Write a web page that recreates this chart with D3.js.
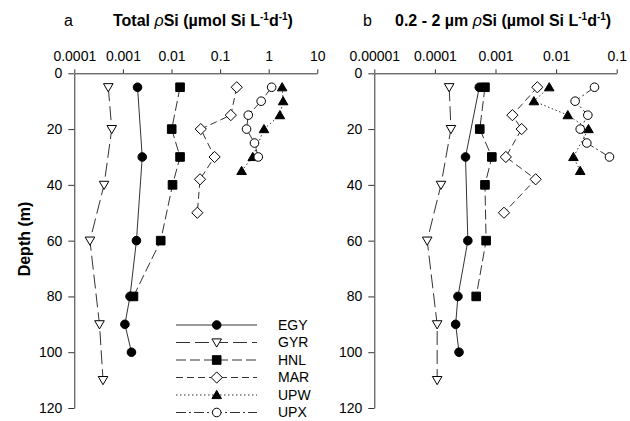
<!DOCTYPE html>
<html>
<head>
<meta charset="utf-8">
<script src="https://cdn.jsdelivr.net/npm/d3@7"></script>
<style>
body { margin: 0; background: #fff; }
text { font-family: Arial, "Liberation Sans", sans-serif; }
</style>
</head>
<body>
<script>
// station depths (m)
var depthEGY = [5, 30, 60, 80, 90, 100];
var depthGYR = [5, 20, 40, 60, 90, 110];
var depthHNL = [5, 20, 30, 40, 60, 80];
var depthMAR = [5, 15, 20, 30, 38, 50];
var depthUPW = [5, 10, 15, 20, 30, 35];
var depthUPX = [5, 10, 15, 20, 25, 30];

// panel a: total rho Si
var totalEGY = [0.002, 0.0025, 0.0019, 0.0014, 0.0011, 0.0015];
var totalGYR = [0.0005, 0.00059, 0.00041, 0.00021, 0.00033, 0.00039];
var totalHNL = [0.015, 0.0101, 0.015, 0.0105, 0.006, 0.00165];
var totalMAR = [0.22, 0.166, 0.04, 0.077, 0.0386, 0.034];
var totalUPW = [1.89, 1.98, 1.7, 0.8, 0.47, 0.277];
var totalUPX = [1.15, 0.7, 0.38, 0.35, 0.51, 0.61];

// panel b: 0.2 - 2 um rho Si
var picoEGY = [0.00054, 0.00032, 0.00035, 0.00024, 0.00022, 0.00025];
var picoGYR = [0.000172, 0.000184, 0.000126, 0.0000746, 0.000109, 0.000109];
var picoHNL = [0.00067, 0.00055, 0.00087, 0.00067, 0.0007, 0.00048];
var picoMAR = [0.0049, 0.0019, 0.0027, 0.00148, 0.0046, 0.00138];
var picoUPW = [0.0077, 0.0043, 0.0156, 0.0342, 0.0193, 0.025];
var picoUPX = [0.043, 0.0206, 0.0334, 0.025, 0.0321, 0.076];

var stations = ["EGY", "GYR", "HNL", "MAR", "UPW", "UPX"];
var depthTicks = [0, 20, 40, 60, 80, 100, 120];
var totalTicks = [0.0001, 0.001, 0.01, 0.1, 1, 10];
var totalTickLabels = ["0.0001", "0.001", "0.01", "0.1", "1", "10"];
var picoTicks = [0.00001, 0.0001, 0.001, 0.01, 0.1];
var picoTickLabels = ["0.00001", "0.0001", "0.001", "0.01", "0.1"];

var depths = { EGY: depthEGY, GYR: depthGYR, HNL: depthHNL, MAR: depthMAR, UPW: depthUPW, UPX: depthUPX };
var totals = { EGY: totalEGY, GYR: totalGYR, HNL: totalHNL, MAR: totalMAR, UPW: totalUPW, UPX: totalUPX };
var picos = { EGY: picoEGY, GYR: picoGYR, HNL: picoHNL, MAR: picoMAR, UPW: picoUPW, UPX: picoUPX };

/*
 * Marker and line style per station.
 */
var style = {
	EGY: { marker: "circle", fill: "#000", dash: null },
	GYR: { marker: "triDown", fill: "#fff", dash: "14,5" },
	HNL: { marker: "square", fill: "#000", dash: "10,4" },
	MAR: { marker: "diamond", fill: "#fff", dash: "7,4" },
	UPW: { marker: "triUp", fill: "#000", dash: "1.5,2.5" },
	UPX: { marker: "circle", fill: "#fff", dash: "10,3,2,3" }
};

function markerPath(type) {
	if (type == "circle") return d3.symbol(d3.symbolCircle, 58)();
	if (type == "square") return "M-4.3,-4.3H4.3V4.3H-4.3Z";
	if (type == "diamond") return "M0,-5.6L5.6,0L0,5.6L-5.6,0Z";
	if (type == "triDown") return "M-4.8,-3.6L4.8,-3.6L0,4.6Z";
	if (type == "triUp") return "M-4.8,3.6L4.8,3.6L0,-4.6Z";
}

var width = 630,
	height = 421;

var svg = d3.select("body").append("svg")
	.attr("width", width)
	.attr("height", height);

var y = d3.scaleLinear().domain([0, 120]).range([73.3, 408]);
var xTotal = d3.scaleLog().domain([0.0001, 10]).range([74.3, 317.3]);
var xPico = d3.scaleLog().domain([0.00001, 0.1]).range([374.3, 616.7]);

function drawAxes(x, ticks, labels) {
	var gx = svg.append("g")
		.attr("transform", "translate(0," + y(0) + ")")
		.call(d3.axisTop(x).tickValues(ticks)
			.tickFormat(function(d, i) { return labels[i]; })
			.tickSize(4).tickPadding(8).tickSizeOuter(0));
	var gy = svg.append("g")
		.attr("transform", "translate(" + x.range()[0] + ",0)")
		.call(d3.axisLeft(y).tickValues(depthTicks)
			.tickSize(6).tickPadding(6).tickSizeOuter(0));
	[gx, gy].forEach(function(g) {
		g.attr("font-size", 14).attr("font-family", "Arial, 'Liberation Sans', sans-serif");
		g.selectAll("path, line").attr("stroke", "#333");
		g.selectAll("text").attr("fill", "#000");
	});
}

function drawPanel(x, values) {
	var line = d3.line()
		.x(function(d) { return x(d[1]); })
		.y(function(d) { return y(d[0]); });
	stations.forEach(function(s) {
		var pts = d3.zip(depths[s], values[s]);
		svg.append("path")
			.attr("d", line(pts))
			.attr("fill", "none")
			.attr("stroke", "#333")
			.attr("stroke-width", 1)
			.attr("stroke-dasharray", style[s].dash);
	});
	stations.forEach(function(s) {
		var pts = d3.zip(depths[s], values[s]);
		svg.append("g").selectAll("path")
			.data(pts)
			.enter().append("path")
			.attr("transform", function(d) { return "translate(" + x(d[1]) + "," + y(d[0]) + ")"; })
			.attr("d", markerPath(style[s].marker))
			.attr("fill", style[s].fill)
			.attr("stroke", "#000")
			.attr("stroke-width", 1);
	});
}

drawAxes(xTotal, totalTicks, totalTickLabels);
drawAxes(xPico, picoTicks, picoTickLabels);
drawPanel(xTotal, totals);
drawPanel(xPico, picos);

/*
 * Panel titles with italic rho and superscripts.
 */
function title(letterX, x, lead) {
	svg.append("text")
		.attr("x", letterX).attr("y", 26)
		.attr("font-size", 16)
		.text(letterX < 300 ? "a" : "b");
	var t = svg.append("text")
		.attr("x", x).attr("y", 26)
		.attr("font-size", 16)
		.attr("font-weight", "bold");
	t.append("tspan").text(lead);
	t.append("tspan").attr("font-style", "italic").attr("font-weight", "normal").text("\u03C1");
	t.append("tspan").text("Si (\u00B5mol Si L");
	t.append("tspan").attr("font-size", 10).attr("dy", -6).text("-1");
	t.append("tspan").attr("dy", 6).text("d");
	t.append("tspan").attr("font-size", 10).attr("dy", -6).text("-1");
	t.append("tspan").attr("dy", 6).text(")");
}
title(64, 113, "Total ");
title(363, 395, "0.2 - 2 \u00B5m ");

svg.append("text")
	.attr("transform", "translate(24,239) rotate(-90)")
	.attr("text-anchor", "middle")
	.attr("dy", "0.35em")
	.attr("font-size", 16)
	.attr("font-weight", "bold")
	.text("Depth (m)");

/*
 * Legend inside panel a.
 */
var legend = svg.append("g").selectAll("g")
	.data(stations)
	.enter().append("g")
	.attr("transform", function(d, i) { return "translate(0," + (325 + i * 17.5) + ")"; });

legend.append("line")
	.attr("x1", 176).attr("x2", 257)
	.attr("stroke", "#333")
	.attr("stroke-dasharray", function(d) { return style[d].dash; });
legend.append("path")
	.attr("transform", "translate(216.7,0)")
	.attr("d", function(d) { return markerPath(style[d].marker); })
	.attr("fill", function(d) { return style[d].fill; })
	.attr("stroke", "#000");
legend.append("text")
	.attr("x", 278)
	.attr("dy", "0.35em")
	.attr("font-size", 14)
	.text(function(d) { return d; });
</script>
</body>
</html>
